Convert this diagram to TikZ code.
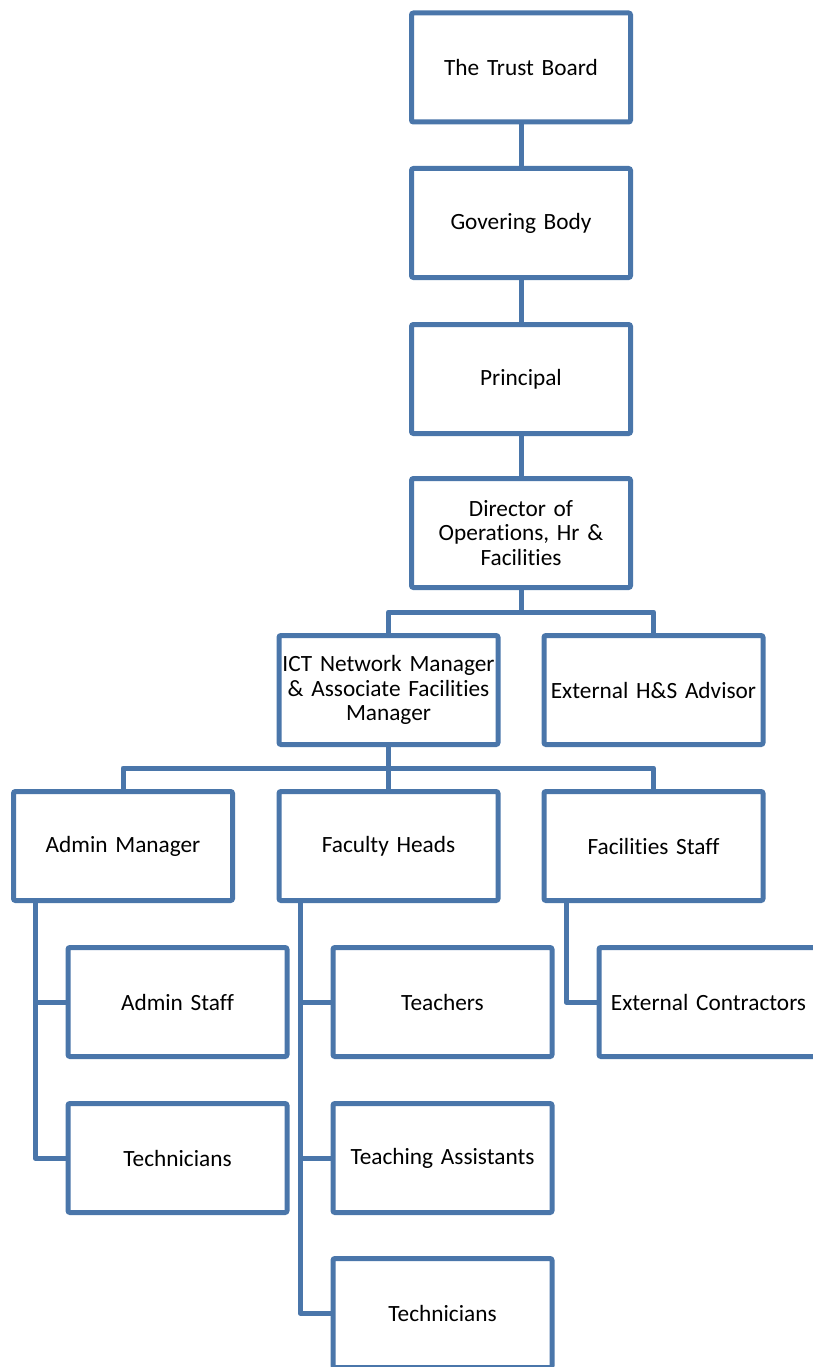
\documentclass[tikz,border=0pt]{standalone}
\usepackage{fontspec}
\setmainfont{Carlito}[Ligatures=NoCommon]
\definecolor{boxblue}{RGB}{74,118,170}
\begin{document}
\begin{tikzpicture}[x=1pt,y=-1pt,
  orgbox/.style={draw=boxblue,line width=5pt,rounded corners=2pt,fill=white,
    minimum width=219pt,minimum height=109pt,inner sep=0pt,align=center,
    text width=219pt,font=\fontsize{23.3}{24.5}\selectfont},
  conn/.style={draw=boxblue,line width=5pt}]
\useasboundingbox (0,0) rectangle (813,1367);
\node[orgbox] (tb) at (521,67.5) {The Trust Board};
\node[orgbox] (gb) at (521,223) {Govering Body};
\node[orgbox] (pr) at (521,379) {Principal};
\node[orgbox] (dir) at (521,533) {Director of\\Operations, Hr \&\\Facilities};
\node[orgbox] (ict) at (388.5,690) {ICT Network Manager\\\& Associate Facilities\\Manager};
\node[orgbox] (hs) at (653.5,690) {External H\&S Advisor};
\node[orgbox] (am) at (123,846) {Admin Manager};
\node[orgbox] (fh) at (388.5,846) {Faculty Heads};
\node[orgbox] (fs) at (653.5,846) {Facilities Staff};
\node[orgbox] (as) at (177.5,1002) {Admin Staff};
\node[orgbox] (t1) at (177.5,1158) {Technicians};
\node[orgbox] (te) at (442.5,1002) {Teachers};
\node[orgbox] (ta) at (442.5,1158) {Teaching Assistants};
\node[orgbox] (t2) at (442.5,1313) {Technicians};
\node[orgbox] (ec) at (708.5,1002) {External Contractors};
\coordinate (j1) at (521,612);
\coordinate (j2) at (388.5,768);
\coordinate (amb) at (35,900);
\coordinate (fhb) at (300,900);
\coordinate (fsb) at (566,900);
\draw[conn] (tb.south) -- (gb.north);
\draw[conn] (gb.south) -- (pr.north);
\draw[conn] (pr.south) -- (dir.north);
\draw[conn,line join=round] (dir.south) -- (j1) -| (ict.north);
\draw[conn,line join=round] (j1) -| (hs.north);
\draw[conn,line join=round] (ict.south) -- (j2) -| (am.north);
\draw[conn] (j2) -- (fh.north);
\draw[conn,line join=round] (j2) -| (fs.north);
\draw[conn,line join=round] (amb) |- (t1.west);
\draw[conn] (amb |- as.west) -- (as.west);
\draw[conn,line join=round] (fhb) |- (t2.west);
\draw[conn] (fhb |- te.west) -- (te.west);
\draw[conn] (fhb |- ta.west) -- (ta.west);
\draw[conn,line join=round] (fsb) |- (ec.west);
\end{tikzpicture}
\end{document}
